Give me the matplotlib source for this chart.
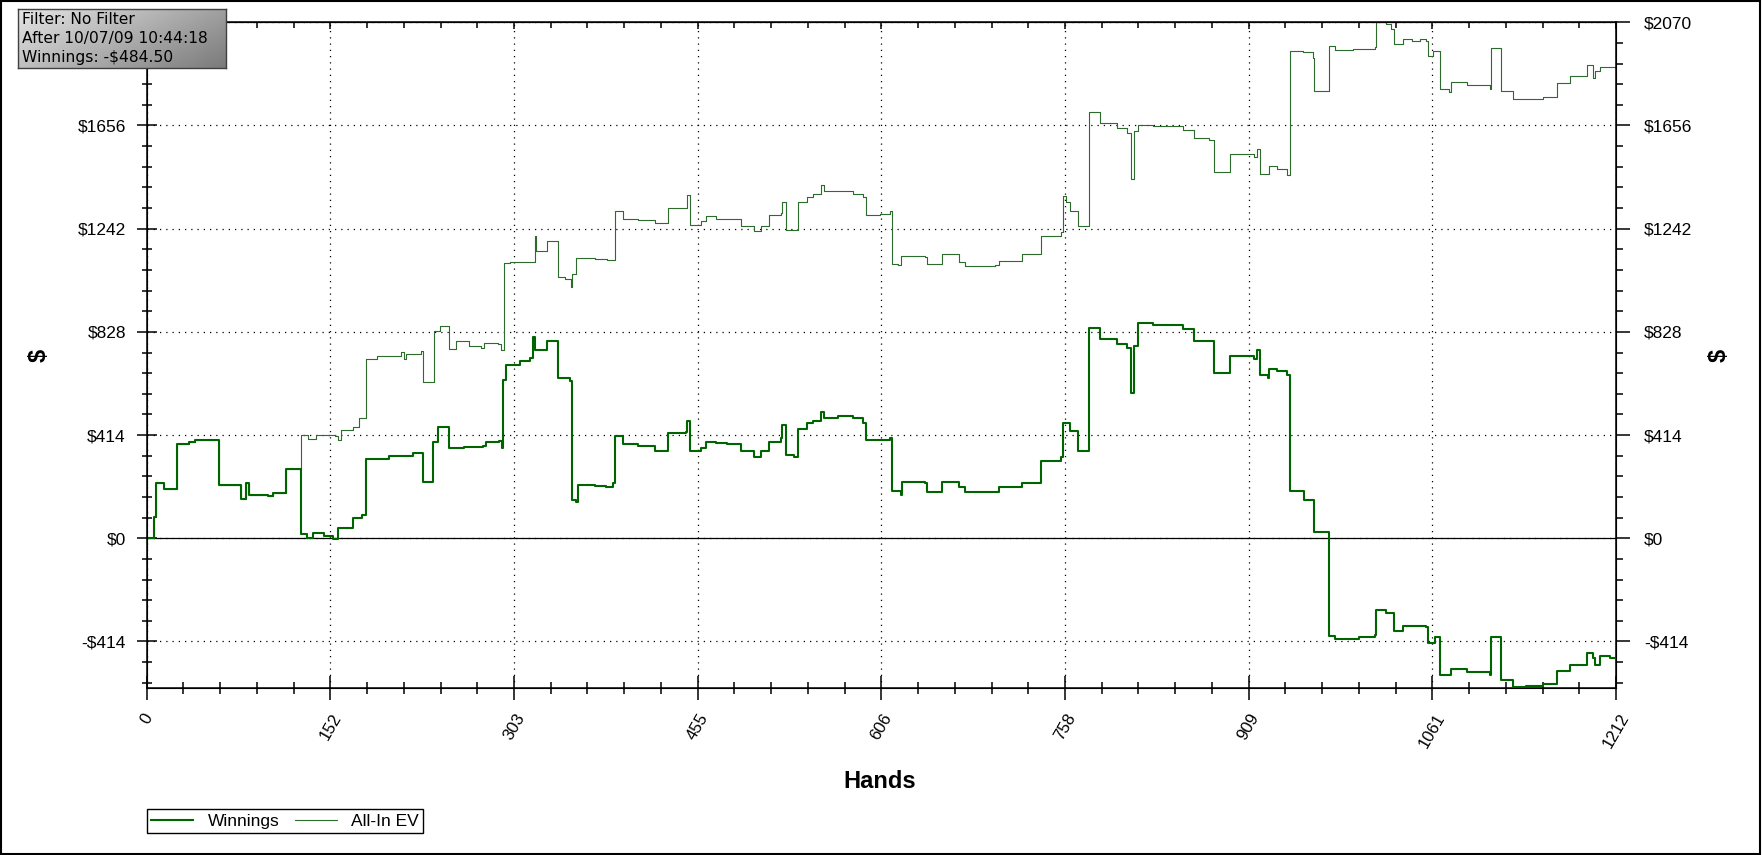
# imports
import matplotlib
matplotlib.use("Agg")
import matplotlib.pyplot as plt
import matplotlib.patches as patches
import numpy as np
from matplotlib.ticker import MultipleLocator, FixedLocator

# data (hand number where a level starts, $ level)
win_hands = [0, 6, 8, 14, 25, 35, 40, 60, 78, 82, 84, 100, 104, 115, 127, 132, 137, 146, 154,
             158, 170, 178, 181, 200, 220, 228, 236, 240, 249, 262, 277, 280, 291, 293, 294,
             296, 308, 316, 319, 320, 330, 339, 349, 351, 354, 356, 370, 379, 385, 386, 393,
             405, 419, 430, 445, 446, 448, 457, 461, 470, 479, 490, 501, 507, 513, 523, 524,
             527, 534, 537, 545, 550, 556, 559, 570, 583, 591, 593, 605, 613, 615, 622, 623,
             642, 644, 656, 670, 675, 700, 703, 722, 738, 754, 756, 762, 768, 777, 786, 800,
             809, 812, 814, 818, 830, 855, 864, 876, 880, 894, 913, 916, 918, 925, 926, 932,
             941, 943, 955, 963, 975, 980, 1000, 1013, 1014, 1022, 1029, 1036, 1055, 1057,
             1063, 1067, 1076, 1089, 1108, 1109, 1113, 1117, 1127, 1138, 1152, 1163, 1174,
             1188, 1193, 1195, 1199, 1207, 1212]
win_values = [0, 86, 220, 199, 378, 387, 395, 215, 158, 223, 175, 170, 180, 278, 17, 0, 20, 8, -3,
              41, 82, 94, 318, 330, 343, 227, 387, 447, 361, 366, 370, 387, 392, 361, 636,
              696, 713, 722, 807, 756, 790, 644, 630, 155, 146, 215, 210, 205, 223, 412, 378,
              370, 352, 421, 426, 472, 352, 361, 387, 381, 378, 352, 326, 352, 387, 404, 455,
              335, 326, 438, 464, 470, 507, 481, 490, 481, 464, 395, 395, 404, 189, 172, 227,
              220, 186, 227, 206, 184, 184, 206, 223, 309, 326, 464, 430, 352, 845, 799, 780,
              764, 584, 773, 862, 855, 838, 793, 790, 661, 730, 721, 756, 653, 644, 679, 670,
              656, 189, 155, 26, -392, -404, -398, -387, -289, -301, -374, -352, -357, -421,
              -395, -550, -524, -536, -550, -395, -395, -567, -598, -592, -584, -533, -507,
              -460, -481, -507, -472, -481, -484.5]

ev_hands = [0, 6, 8, 14, 25, 35, 40, 60, 78, 82, 84, 100, 104, 115, 127, 133, 140, 155, 158,
            160, 170, 175, 181, 190, 210, 212, 214, 226, 228, 237, 242, 249, 255, 266, 276,
            278, 290, 292, 295, 300, 320, 321, 330, 339, 345, 350, 351, 354, 370, 380, 386,
            393, 405, 419, 430, 446, 448, 457, 461, 470, 490, 501, 507, 513, 523, 524, 527,
            537, 545, 550, 556, 559, 575, 583, 591, 593, 605, 613, 615, 620, 622, 642, 644,
            656, 670, 675, 700, 703, 722, 738, 754, 756, 758, 762, 768, 777, 786, 800, 809,
            812, 814, 818, 830, 855, 864, 876, 880, 894, 913, 916, 918, 926, 932, 941, 943,
            954, 962, 963, 975, 980, 995, 1013, 1014, 1022, 1026, 1029, 1036, 1044, 1050,
            1055, 1057, 1061, 1067, 1074, 1076, 1089, 1108, 1109, 1113, 1117, 1127, 1138,
            1152, 1163, 1174, 1188, 1193, 1195, 1199, 1212]
ev_values = [0, 86, 220, 199, 378, 387, 395, 215, 158, 223, 175, 170, 180, 278, 416, 399, 416, 410, 395,
             433, 447, 481, 721, 730, 747, 721, 740, 752, 627, 833, 850, 759, 790, 773, 764,
             782, 780, 756, 1103, 1108, 1211, 1151, 1192, 1048, 1040, 1010, 1060, 1125, 1120, 1117, 1314,
             1280, 1275, 1263, 1323, 1378, 1257, 1271, 1292, 1280, 1254, 1233, 1254, 1297, 1306, 1349, 1237,
             1349, 1371, 1383, 1417, 1392, 1392, 1383, 1371, 1297, 1302, 1314, 1100, 1096, 1134, 1130, 1100,
             1139, 1108, 1094, 1096, 1112, 1139, 1211, 1228, 1374, 1348, 1314, 1254, 1709, 1667, 1645, 1624,
             1443, 1632, 1658, 1654, 1639, 1606, 1598, 1469, 1543, 1529, 1563, 1460, 1492, 1480, 1457, 1955,
             1950, 1925, 1795, 1976, 1959, 1962, 1972, 2070, 2062, 2044, 1984, 2001, 1993, 2001,
             1993, 1933, 1955, 1804, 1790, 1830, 1818, 1804, 1967, 1967, 1795, 1761, 1761,
             1770, 1825, 1855, 1898, 1847, 1873, 1890, 1876]

x_tick_pos = [0, 151.5, 303, 454.5, 606, 757.5, 909, 1060.5, 1212]
x_tick_labels = ["0", "152", "303", "455", "606", "758", "909", "1061", "1212"]
y_tick_pos = [-414, 0, 414, 828, 1242, 1656, 2070]
y_tick_labels = ["-$414", "$0", "$414", "$828", "$1242", "$1656", "$2070"]
info_lines = ["Filter: No Filter", "After 10/07/09 10:44:18", "Winnings: -$484.50"]

# style
W, H = 1762, 855
plt.rcParams['font.family'] = ['Liberation Sans', 'DejaVu Sans']
win_color = '#006400'
ev_color = '#2b6b2b'

fig = plt.figure(figsize=(W / 100, H / 100), dpi=100)
fig.patch.set_facecolor('white')

# main axes, positioned by pixels
left, right, top, bottom = 146.7, 1616, 22.3, 688.3
ax = fig.add_axes([left / W, 1 - bottom / H, (right - left) / W, (bottom - top) / H])

ax.step(win_hands, win_values, where='post', color=win_color, linewidth=1.5, label='Winnings', zorder=3)
ax.step(ev_hands, ev_values, where='post', color=ev_color, linewidth=0.8, label='All-In EV', zorder=2)
ax.axhline(0, color='black', linewidth=0.9, zorder=1)

ax.set_xlim(0, 1212)
ax.set_ylim(-602, 2070)

# grid and ticks
ax.xaxis.set_major_locator(FixedLocator(x_tick_pos))
ax.set_xticklabels(x_tick_labels, rotation=60, ha='center', fontsize=12)
ax.xaxis.set_minor_locator(MultipleLocator(30.3))
ax.yaxis.set_major_locator(FixedLocator(y_tick_pos))
ax.set_yticklabels(y_tick_labels, fontsize=12.5)
ax.yaxis.set_minor_locator(MultipleLocator(82.8))
ax.grid(True, which='major', color='black', linestyle=(0, (1, 4)), linewidth=0.9)

ax.tick_params(axis='x', which='major', direction='inout', length=17, width=1.1, pad=8)
ax.tick_params(axis='x', which='minor', direction='inout', length=8, width=1.1)
ax.tick_params(axis='y', which='major', direction='inout', length=14, width=1.1, pad=8)
ax.tick_params(axis='y', which='minor', direction='inout', length=7, width=1.1)
for sp in ax.spines.values():
   sp.set_linewidth(1.1)

# right side axis
ax2 = ax.twinx()
ax2.set_ylim(ax.get_ylim())
ax2.yaxis.set_major_locator(FixedLocator(y_tick_pos))
ax2.set_yticklabels(y_tick_labels, fontsize=12.5)
ax2.yaxis.set_minor_locator(MultipleLocator(82.8))
ax2.tick_params(axis='y', which='major', direction='out', length=10, width=1.1, pad=10)
ax2.tick_params(axis='y', which='minor', direction='out', length=5, width=1.1)

# top ticks pointing in
axt = ax.secondary_xaxis('top')
axt.xaxis.set_major_locator(FixedLocator(x_tick_pos))
axt.xaxis.set_minor_locator(MultipleLocator(30.3))
axt.tick_params(which='major', direction='in', length=5, width=1.1, labeltop=False)
axt.tick_params(which='minor', direction='in', length=4, width=1.1)

# axis labels
fig.text(880 / W, 1 - 781 / H, 'Hands', ha='center', va='center', fontsize=17, fontweight='bold')
fig.text(39 / W, 1 - 355 / H, '$', ha='center', va='center', rotation=90, fontsize=17, fontweight='bold')
fig.text(1719 / W, 1 - 355 / H, '$', ha='center', va='center', rotation=90, fontsize=17, fontweight='bold')

# legend
fig.legend(loc='lower left', bbox_to_anchor=(146.7 / W, 1 - 833 / H), ncol=2, fontsize=12.5,
           frameon=True, fancybox=False, edgecolor='black', framealpha=1, borderpad=0.25,
           handlelength=2.4, handletextpad=0.85, columnspacing=0.9, borderaxespad=0)

# info box with grey gradient
bx0, by0, bx1, by1 = 18, 9, 226, 68
axb = fig.add_axes([bx0 / W, 1 - by1 / H, (bx1 - bx0) / W, (by1 - by0) / H], zorder=10)
gx, gy = np.meshgrid(np.linspace(0, 1, 200), np.linspace(0, 1, 60))
grad = 0.90 - 0.42 * (0.65 * gx + 0.35 * gy)
axb.imshow(grad, cmap='gray', vmin=0, vmax=1, aspect='auto', extent=[0, 1, 0, 1], origin='upper')
axb.set_xticks([])
axb.set_yticks([])
for sp in axb.spines.values():
   sp.set_color('#404040')
   sp.set_linewidth(1.0)
for i, line in enumerate(info_lines):
   axb.text(0.018, 0.83 - i * 0.33, line, transform=axb.transAxes, ha='left', va='center',
            fontsize=11.2, family='DejaVu Sans', color='black')

# outer frame
fig.patches.append(patches.Rectangle((0.0006, 0.001), 0.9985, 0.9975, transform=fig.transFigure,
                                     fill=False, edgecolor='black', linewidth=1.5))

## fileout
plt.savefig('out.png', dpi=100)
